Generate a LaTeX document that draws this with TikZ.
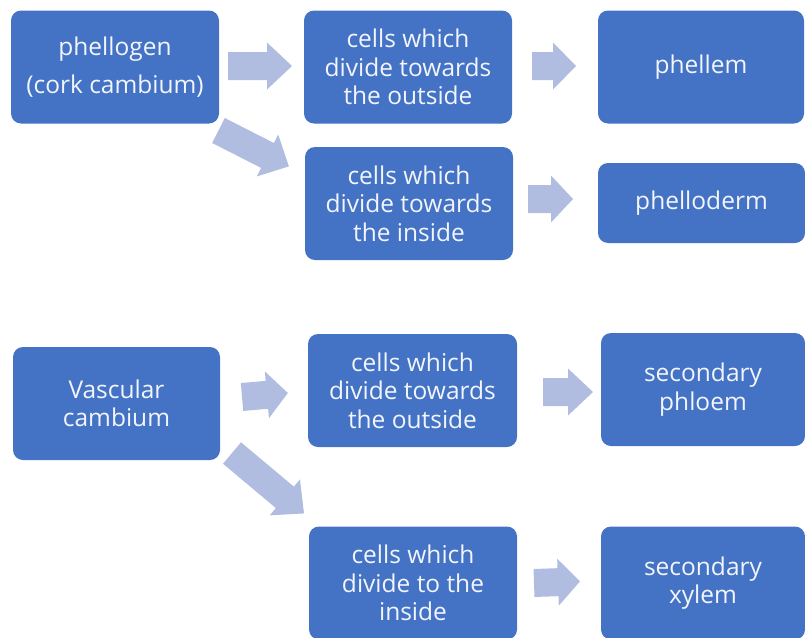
\documentclass[tikz,border=0pt]{standalone}
\usepackage{fontspec}
\setmainfont{Open Sans}
\definecolor{boxblue}{HTML}{4472C4}
\definecolor{arrowblue}{HTML}{B0BDE0}
\definecolor{boxtext}{HTML}{F2F5FB}
\newcommand{\blockarr}[4]{%
  \fill[arrowblue, shift={#1}, rotate=#2]
    (0,-14) -- ({#3-#4},-14) -- ({#3-#4},-23.5) -- (#3,0)
    -- ({#3-#4},23.5) -- ({#3-#4},14) -- (0,14) -- cycle;}
\begin{document}
\begin{tikzpicture}[x=1pt,y=-1pt,
  box/.style={fill=boxblue, draw=none, rounded corners=10pt, text=boxtext,
    inner sep=0pt, outer sep=0pt, align=center,
    font=\fontsize{24.5}{28.5}\selectfont, minimum height=113pt, minimum width=208pt}]
\useasboundingbox (0,0) rectangle (805,637);
\begin{scope}
\clip (0,0) rectangle (805,637);
\node[box] (n1) at (115,67) {phellogen\\[10pt](cork cambium)};
\node[box] (n2) at (408,67) {cells which\\divide towards\\the outside};
\node[box, minimum width=206pt] (n3) at (701,67) {phellem};
\node[box] (n4) at (409,203.5) {cells which\\divide towards\\the inside};
\node[box, minimum width=207pt, minimum height=80pt] (n5) at (701.5,203) {phelloderm};
\node[box, minimum width=207pt] (n6) at (116.5,403.5) {Vascular\\cambium};
\node[box, minimum width=209pt] (n7) at (412.5,390.5) {cells which\\divide towards\\the outside};
\node[box, minimum width=204pt] (n8) at (703,389.5) {secondary\\phloem};
\node[box] (n9) at (413,583) {cells which\\divide to the\\inside};
\node[box, minimum width=204pt] (n10) at (703,583) {secondary\\xylem};
\end{scope}
\blockarr{(228,66)}{0}{64}{25}
\blockarr{(218.5,130.5)}{-27}{79}{24}
\blockarr{(532,66)}{0}{44}{23}
\blockarr{(528,199)}{0}{45}{22}
\blockarr{(242,397)}{5}{46}{21}
\blockarr{(232,453)}{-40}{94}{25}
\blockarr{(543,392)}{0}{50}{25}
\blockarr{(534,583)}{2}{46}{22}
\end{tikzpicture}
\end{document}
